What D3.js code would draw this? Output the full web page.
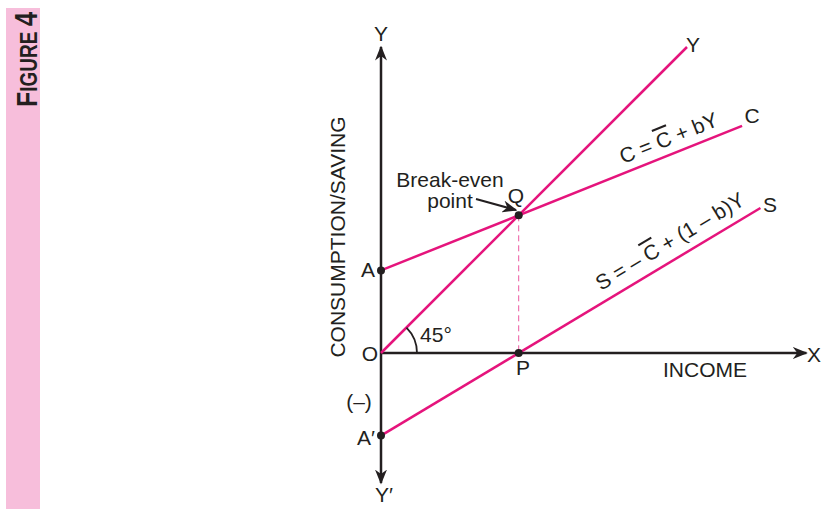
<!DOCTYPE html>
<html>
<head>
<meta charset="utf-8">
<title>Figure 4</title>
<style>
	body { margin: 0; background: #fff; }
	svg { display: block; font-family: "Liberation Sans", Arial, sans-serif; }
	.lbl { font-size: 21px; fill: #231f20; }
</style>
</head>
<body>
<svg width="822" height="509"></svg>
<script src="https://cdn.jsdelivr.net/npm/d3@7/dist/d3.min.js"></script>
<script>
	// values (same unit on both axes)
	const xAxisRange = [0, 139]
	const yAxisRange = [-42.5, 100]
	const lineY = [[0, 0], [100, 100]]        // 45 degree line
	const lineC = [[0, 27], [118, 74.2]]      // C = Cbar + bY
	const lineS = [[0, -27], [124, 47.4]]     // S = -Cbar + (1-b)Y
	const breakEven = [45, 45]                // Q, P below it
	const dots = [[0, 27], [45, 45], [45, 0], [0, -27]]

	const pink = "#e5147c", ink = "#231f20"
	const svg = d3.select("svg")

	// pink side strip
	svg.append("rect").attr("x", 6).attr("y", 8).attr("width", 34).attr("height", 501).attr("fill", "#f7bedb")
	const fig = svg.append("text").attr("transform", "translate(37,107) rotate(-90)")
		.attr("font-weight", "bold").attr("fill", ink)
		.attr("textLength", 95).attr("lengthAdjust", "spacingAndGlyphs")
	fig.append("tspan").attr("font-size", 30).text("F")
	fig.append("tspan").attr("font-size", 23).text("IGURE ")
	fig.append("tspan").attr("font-size", 31).text("4")

	const x = d3.scaleLinear().domain([0, 100]).range([381, 687])
	const y = d3.scaleLinear().domain([0, 100]).range([353, 47])

	// arrow head
	svg.append("defs").append("marker").attr("id", "arr")
		.attr("viewBox", "0 0 10 10").attr("refX", 9).attr("refY", 5)
		.attr("markerWidth", 15).attr("markerHeight", 12).attr("markerUnits", "userSpaceOnUse")
		.attr("orient", "auto-start-reverse").attr("preserveAspectRatio", "none")
		.append("path").attr("d", "M0,0 L10,5 L0,10 L3,5 Z").attr("fill", ink)

	// axes
	svg.append("line").attr("x1", x(0)).attr("x2", x(0))
		.attr("y1", y(yAxisRange[0])).attr("y2", y(yAxisRange[1]))
		.attr("stroke", ink).attr("stroke-width", 2.5)
		.attr("marker-start", "url(#arr)").attr("marker-end", "url(#arr)")
	svg.append("line").attr("x1", x(xAxisRange[0])).attr("x2", x(xAxisRange[1]))
		.attr("y1", y(0)).attr("y2", y(0))
		.attr("stroke", ink).attr("stroke-width", 2.5).attr("marker-end", "url(#arr)")

	// dashed drop from Q to P
	svg.append("line").attr("x1", x(breakEven[0])).attr("x2", x(breakEven[0]))
		.attr("y1", y(breakEven[1])).attr("y2", y(0))
		.attr("stroke", pink).attr("stroke-width", 1).attr("stroke-dasharray", "6,4").attr("opacity", 0.7)

	// the three lines
	const ln = d3.line().x(d => x(d[0])).y(d => y(d[1]))
	svg.selectAll("path.ln").data([lineY, lineC, lineS]).enter().append("path")
		.attr("class", "ln").attr("d", ln).attr("fill", "none")
		.attr("stroke", pink).attr("stroke-width", 2.5)

	// 45 degree arc
	const r = 36
	svg.append("path").attr("fill", "none").attr("stroke", ink).attr("stroke-width", 1.8)
		.attr("d", `M${x(0) + r},${y(0)} A${r},${r} 0 0 0 ${x(0) + r * Math.SQRT1_2},${y(0) - r * Math.SQRT1_2}`)

	svg.selectAll("circle").data(dots).enter().append("circle")
		.attr("cx", d => x(d[0])).attr("cy", d => y(d[1])).attr("r", 4).attr("fill", ink)

	// plain labels
	const labels = [
		["Y", 381, 41], ["Y\u2032", 384, 502], ["O", 370, 361], ["A", 368, 277],
		["A\u2032", 366, 445], ["(\u2013)", 359, 409], ["P", 523, 375], ["Q", 516, 203],
		["45\u00b0", 436, 342], ["INCOME", 705, 377], ["Y", 693, 52], ["C", 752, 123],
		["S", 770, 212], ["Break-even", 450, 187], ["point", 450, 208]
	]
	svg.selectAll("text.lbl").data(labels).enter().append("text")
		.attr("class", "lbl").attr("text-anchor", "middle")
		.attr("x", d => d[1]).attr("y", d => d[2]).text(d => d[0])
	svg.append("text").attr("class", "lbl").attr("x", 807).attr("y", 362)
		.attr("font-size", 22).text("X")
	svg.append("text").attr("class", "lbl").attr("transform", "translate(345,237) rotate(-90)")
		.attr("text-anchor", "middle").text("CONSUMPTION/SAVING")

	// arrow to break-even point
	svg.append("line").attr("x1", 476).attr("y1", 199).attr("x2", 516).attr("y2", 210)
		.attr("stroke", ink).attr("stroke-width", 2).attr("marker-end", "url(#arr)")

	// equation labels along lines
	const angC = Math.atan2(y(lineC[0][1]) - y(lineC[1][1]), x(lineC[1][0]) - x(lineC[0][0])) * 180 / Math.PI
	const eqC = svg.append("text").attr("class", "lbl")
		.attr("transform", `translate(623,164) rotate(${-angC})`)
	eqC.append("tspan").text("C = ")
	eqC.append("tspan").style("text-decoration", "overline").text("C")
	eqC.append("tspan").text(" + bY")

	const angS = Math.atan2(y(lineS[0][1]) - y(lineS[1][1]), x(lineS[1][0]) - x(lineS[0][0])) * 180 / Math.PI
	const eqS = svg.append("text").attr("class", "lbl")
		.attr("transform", `translate(601,291) rotate(${-angS})`)
	eqS.append("tspan").text("S = \u2013 ")
	eqS.append("tspan").style("text-decoration", "overline").text("C")
	eqS.append("tspan").text(" + (1 \u2013 b)Y")
</script>
</body>
</html>
